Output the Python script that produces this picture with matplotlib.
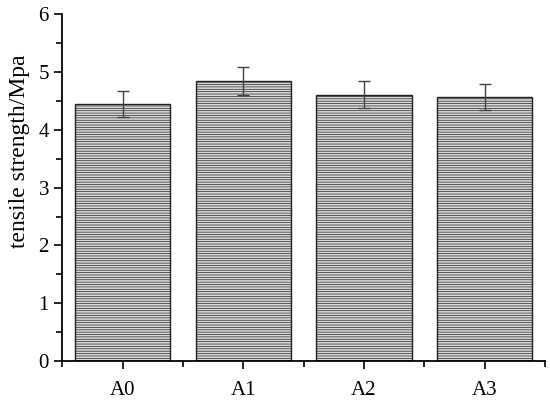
import numpy as np
import matplotlib
matplotlib.use("Agg")
import matplotlib.pyplot as plt
from matplotlib.ticker import MultipleLocator, FixedLocator

plt.rcParams['font.family'] = ['Liberation Serif', 'DejaVu Serif']
plt.rcParams['hatch.color'] = '#ababab'
plt.rcParams['hatch.linewidth'] = 0.5

# data
samples = ['A0', 'A1', 'A2', 'A3']
strength = [4.45, 4.85, 4.61, 4.57]
errors = [0.22, 0.24, 0.23, 0.23]

fig = plt.figure(figsize=(5.5, 4.04), dpi=100)
ax = fig.add_axes([0.113, 0.106, 0.878, 0.859])

x = np.arange(len(samples))
ax.bar(x, strength, width=0.79, color='#dadada', edgecolor='#222222',
       linewidth=1.0, hatch='-------', zorder=2)
ax.errorbar(x, strength, yerr=errors, fmt='none', ecolor='#444444',
            elinewidth=1.0, capsize=4, capthick=1.0, zorder=3)

ax.set_xlim(-0.5, 3.5)
ax.set_ylim(0, 6)
ax.set_xticks(x)
ax.set_xticklabels(samples)
ax.xaxis.set_minor_locator(FixedLocator([-0.5, 0.5, 1.5, 2.5, 3.5]))
ax.yaxis.set_major_locator(MultipleLocator(1))
ax.yaxis.set_minor_locator(MultipleLocator(0.5))

ax.spines['top'].set_visible(False)
ax.spines['right'].set_visible(False)
ax.spines['left'].set_linewidth(1.3)
ax.spines['bottom'].set_linewidth(1.3)
ax.tick_params(which='major', direction='out', length=6, width=1.2, labelsize=15)
ax.tick_params(which='minor', direction='out', length=4, width=1.2)
ax.tick_params(axis='x', pad=8)

ax.set_ylabel('tensile strength/Mpa', fontsize=17)
ax.yaxis.set_label_coords(-0.066, 0.605)

fig.savefig('out.png', dpi=100)
